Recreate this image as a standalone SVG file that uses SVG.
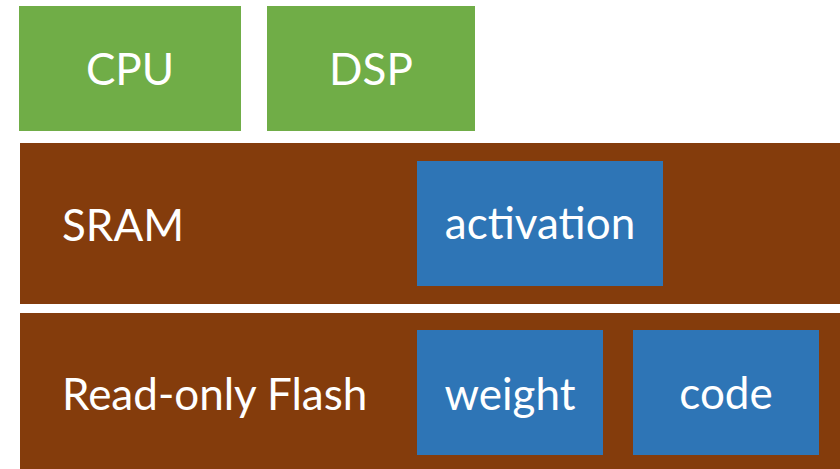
<svg xmlns="http://www.w3.org/2000/svg" width="840" height="469" viewBox="0 0 840 469">
  <style>
    .proc { fill: #70AD47; }
    .mem { fill: #843C0C; }
    .data { fill: #2E75B6; }
    text { font-family: Lato, "Open Sans", "Liberation Sans", sans-serif; font-size: 44px; fill: #FFFFFF; }
    .c { text-anchor: middle; }
  </style>
  <rect width="840" height="469" fill="#FFFFFF"/>
  <g id="cpu">
    <rect class="proc" x="19" y="6" width="222" height="125"/>
    <text class="c" x="130" y="85">CPU</text>
  </g>
  <g id="dsp">
    <rect class="proc" x="267" y="6" width="208" height="125"/>
    <text class="c" x="371" y="85">DSP</text>
  </g>
  <g id="sram">
    <rect class="mem" x="20" y="143" width="820" height="161"/>
    <text x="62" y="241">SRAM</text>
  </g>
  <g id="activation">
    <rect class="data" x="417" y="161" width="246" height="125"/>
    <text class="c" x="540" y="239">activation</text>
  </g>
  <g id="flash">
    <rect class="mem" x="20" y="313" width="820" height="156"/>
    <text x="62" y="410">Read-only Flash</text>
  </g>
  <g id="weight">
    <rect class="data" x="417" y="330" width="186" height="125"/>
    <text class="c" x="510" y="410">weight</text>
  </g>
  <g id="code">
    <rect class="data" x="633" y="330" width="186" height="125"/>
    <text class="c" x="726" y="409">code</text>
  </g>
  <g id="connectors"/>
</svg>
